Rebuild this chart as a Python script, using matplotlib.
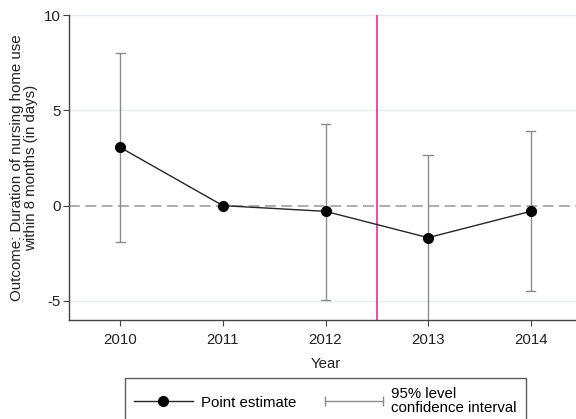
import matplotlib
matplotlib.use("Agg")
import matplotlib.pyplot as plt
from matplotlib.lines import Line2D
from matplotlib.legend_handler import HandlerLine2D

plt.rcParams['font.family'] = ['Liberation Sans', 'DejaVu Sans']
plt.rcParams['axes.unicode_minus'] = False

years = [2010, 2011, 2012, 2013, 2014]
estimates = [3.05, 0.0, -0.3, -1.68, -0.3]
ci_low = [-1.9, 0.0, -4.95, -6.5, -4.5]
ci_high = [8.0, 0.0, 4.3, 2.68, 3.9]
treatment_line = 2012.5

FS = 10.8

fig = plt.figure(figsize=(5.76, 4.19), dpi=100)
ax = fig.add_axes([69/576, 1-320/419, 513/576, 305/419])

ax.set_xlim(2009.5, 2014.5)
ax.set_ylim(-6, 10)
ax.set_yticks([-5, 0, 5, 10])
ax.set_xticks(years)
ax.set_xticklabels([str(y) for y in years])

for yv in [-5, 5, 10]:
    ax.axhline(yv, color='#e6edf2', lw=1.0, zorder=0)
ax.axhline(0, color='#a0a0a0', lw=1.2, ls=(0, (6.5, 3.3)), zorder=1)
ax.axvline(treatment_line, color='#ec3f96', lw=1.3, zorder=2)

# CI bars (reference year has no interval)
ymin, ymax = ax.get_ylim()
for x, lo, hi in zip(years, ci_low, ci_high):
    if lo == hi:
        continue
    ax.vlines(x, lo, hi, color='#8c8c8c', lw=1.0, zorder=3)
    for v in (lo, hi):
        if ymin <= v <= ymax:
            ax.plot([x - 0.045, x + 0.045], [v, v], color='#8c8c8c', lw=1.0, zorder=3,
                    clip_on=False)

ax.plot(years, estimates, color='#262626', lw=1.0, marker='o', markersize=7,
        markerfacecolor='black', markeredgecolor='black', zorder=4)

for s in ['top', 'right']:
    ax.spines[s].set_visible(False)
for s in ['left', 'bottom']:
    ax.spines[s].set_color('#444444')
    ax.spines[s].set_linewidth(1.0)
ax.tick_params(axis='both', labelsize=FS, color='#444444', length=4, width=0.8,
               labelcolor='#222222')
ax.tick_params(axis='x', pad=5)
ax.tick_params(axis='y', pad=2)

ax.set_xlabel('Year', fontsize=FS, color='#222222', labelpad=7.5)
ax.set_ylabel('Outcome: Duration of nursing home use\nwithin 8 months (in days)',
              fontsize=FS, color='#222222', labelpad=4, linespacing=1.05)

h1 = Line2D([], [], color='#262626', lw=1.0, marker='o', markersize=7,
            markerfacecolor='black', markeredgecolor='black')
h2 = Line2D([], [], color='#8c8c8c', lw=1.0, marker='|', markersize=7,
            markeredgecolor='#8c8c8c')
leg = fig.legend([h1, h2], ['Point estimate', '95% level\nconfidence interval'],
                 loc='upper left', bbox_to_anchor=(125/576, 1-378/419),
                 ncol=2, fontsize=FS, frameon=True, fancybox=False,
                 edgecolor='#333333', handlelength=3.9, handletextpad=0.55,
                 columnspacing=1.9, borderpad=0.6, borderaxespad=0,
                 handler_map={h1: HandlerLine2D(numpoints=1),
                              h2: HandlerLine2D(numpoints=2, marker_pad=0)})
for t in leg.get_texts():
    t.set_linespacing(1.0)
leg.get_frame().set_linewidth(1.0)

fig.savefig('out.png', dpi=100)
